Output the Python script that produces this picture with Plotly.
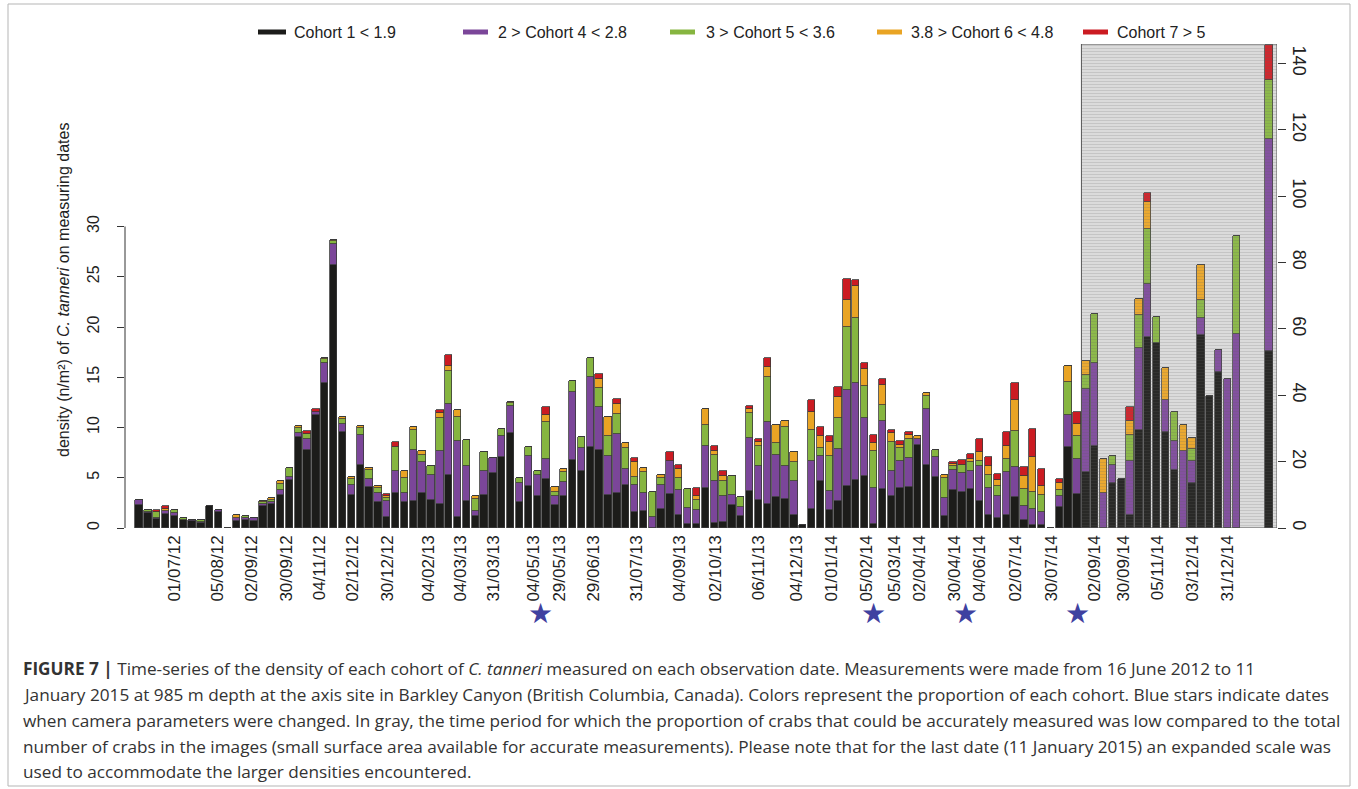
import plotly.graph_objects as go

# ---------------- data (bar index 1..125, left scale) ----------------
black = [2.25,1.45,0.9,1.42,1.16,0.75,0.66,0.5,2.2,1.6,
         0,0.73,0.76,0.66,2.15,2.38,3.31,4.8,9.04,7.78,
         11.26,14.47,26.16,9.6,3.24,6.29,4.05,2.55,1.06,3.48,
         2.55,2.65,3.52,2.82,2.39,5.27,1.06,2.65,1.23,3.28,
         5.47,7.03,9.45,2.55,4.21,3.15,4.88,2.32,3.22,6.8,
         5.7,8.03,7.79,3.28,3.48,4.28,1.63,1.72,0.05,1.89,
         3.38,1.33,0.4,0.4,3.98,0.5,0.56,2.29,1.23,3.65,
         2.79,2.35,3.08,2.85,1.33,0.25,1.89,4.68,1.76,2.65,
         4.15,4.81,5.2,0.4,3.88,3.15,3.98,4.05,8.29,6.3,
         5.04,1.23,3.75,3.55,3.88,2.65,1.33,0.96,1.33,3.05,
         0.83,0.33,0.33,0,2.06,8.06,3.42,5.54,8.19,0,
         4.48,4.88,1.33,9.78,18.97,18.41,9.52,5.74,0,4.48,
         19.17,13.1,15.49,0,0]
purple = [0.55,0.1,0.05,0.23,0.33,0.05,0.17,0.1,0,0.2,
          0,0.27,0.23,0.3,0.27,0.2,0.5,0.26,0.46,1.06,
          0.26,1.92,2.05,0.76,1.06,2.95,0.85,0.93,1.6,2.16,
          0.9,5.14,3.02,2.45,5.24,7.06,7.56,3.48,0.46,2.42,
          1.49,2.09,2.72,1.92,2.92,2.16,1.99,0.83,1.33,6.7,
          2.26,6.97,4.28,3.85,5.87,1.59,2.65,1.72,1.03,2.42,
          3.25,2.45,1.56,1.39,4.21,4.21,2.59,1.03,0.9,5.27,
          3.35,8.16,4.18,3.35,3.38,0,4.81,2.45,1.96,5.21,
          9.62,9.62,5.74,3.58,6.73,2.55,2.65,2.92,0.56,5.54,
          2.02,1.76,1.99,1.92,1.76,3.48,2.65,2.19,4.25,3.02,
          1.33,1.56,1.26,0,1.09,3.22,3.45,8.29,8.23,3.48,
          1.76,0,5.31,8.13,5.31,0,3.18,2.89,7.63,2.16,
          1.72,0,2.19,14.86,19.3]
green = [0,0.25,0.65,0,0.33,0.2,0,0.23,0,0,
         0,0,0.17,0,0.13,0.23,0.6,0.9,0.46,0.5,
         0,0.43,0.36,0.46,0.56,0.7,0.86,0.5,0.33,2.45,
         1.5,1.92,0.73,0.9,3.32,3.32,2.39,2.65,1.2,1.89,
         0,0.73,0.23,0.46,0.96,0.33,3.65,0.4,1.0,1.1,
         1.06,1.92,1.82,2.0,1.99,2.06,0.76,2.09,2.55,0.63,
         0,1.16,1.92,1.03,2.09,2.59,1.49,1.89,0.93,2.52,
         1.99,4.48,1.16,3.81,1.82,0,3.05,0.83,3.48,3.08,
         6.2,6.47,3.15,3.65,1.66,2.85,1.33,1.89,0,1.33,
         0.66,1.99,0.4,0.83,0.9,0.5,1.33,1.0,1.29,3.62,
         1.72,1.66,1.66,0,0.66,3.22,2.32,1.43,4.88,0,
         0.9,0,2.65,3.32,5.47,2.59,0,2.92,0,1.23,
         1.76,0,0,0,9.72]
orange = [0,0,0,0.23,0,0,0,0,0,0,
          0,0.33,0,0,0.1,0.17,0.23,0,0.2,0,
          0,0.07,0.13,0.26,0.2,0.2,0.2,0.2,0.17,0,
          0.7,0.36,0.36,0,0.5,0.5,0.73,0,0.26,0,
          0,0,0.1,0,0,0,0.73,0.5,0.33,0,
          0,0,0.93,1.96,1.0,0.53,1.49,0.4,0,0.33,
          0,0.93,0,0.4,1.56,0.4,0.56,0,0,0.4,
          0.4,1.0,1.86,0.66,1.0,0,1.76,1.23,1.39,2.06,
          2.75,3.22,1.76,0.83,1.92,0.9,0.33,0.36,0.27,0.27,
          0,0.27,0.23,0,0.36,0.9,0.9,0.66,1.33,3.08,
          1.33,3.52,0.96,0,0.66,1.66,1.16,1.33,0,3.38,
          0,0,1.33,1.59,2.69,0,3.22,0,2.59,1.09,
          3.48,0,0,0,0]
red = [0,0,0.2,0.27,0,0,0,0,0,0,
       0,0,0,0,0,0,0,0,0,0.33,
       0.3,0,0,0,0,0,0,0,0.2,0.5,
       0,0,0,0,0.3,1.06,0,0,0.05,0,
       0,0,0,0,0,0,0.83,0,0,0,
       0,0,0.5,0,0.5,0,0.43,0,0,0,
       0.9,0.43,0,0.73,0,0.5,0.5,0,0,0.27,
       0.33,0.9,0,0,0,0,1.23,0.9,0.6,1.06,
       2.06,0.6,0.56,0.76,0.66,0.27,0.33,0.33,0,0,
       0,0,0.2,0.43,0.5,1.36,0.83,0.6,1.33,1.66,
       0.86,2.79,1.66,0,0.4,0,1.19,0,0,0,
       0,0,1.43,0,0.9,0,0,0,0,0,
       0,0,0,0,0]

# last date (11 January 2015), expanded right-hand scale
last_bar_pos = 128.7
last_values = [53.2, 64.0, 17.8, 0, 10.5]

bar_pos = list(range(1, len(black) + 1))

series_names = ["Cohort 1 &lt; 1.9", "2 &gt; Cohort 4 &lt; 2.8", "3 &gt; Cohort 5 &lt; 3.6",
                "3.8 &gt; Cohort 6 &lt; 4.8", "Cohort 7 &gt; 5"]
series_colors = ["#1c1c1a", "#7b4699", "#86b540", "#e9a424", "#cb1b22"]
series_values = [black, purple, green, orange, red]

tick_labels = ["01/07/12", "05/08/12", "02/09/12", "30/09/12", "04/11/12", "02/12/12",
               "30/12/12", "04/02/13", "04/03/13", "31/03/13", "04/05/13", "29/05/13",
               "29/06/13", "31/07/13", "04/09/13", "02/10/13", "06/11/13", "04/12/13",
               "01/01/14", "05/02/14", "05/03/14", "02/04/14", "30/04/14", "04/06/14",
               "02/07/14", "30/07/14", "02/09/14", "30/09/14", "05/11/14", "03/12/14",
               "31/12/14"]
tick_pos = [5, 9.85, 13.75, 17.7, 21.45, 25.15, 29.05, 33.75, 37.3, 41.1, 45.55, 48.55,
            52.35, 57.25, 62.1, 66.1, 71, 75.3, 79.25, 83.2, 86.35, 89.25, 93.2, 96,
            100, 104.1, 109, 112.2, 116.15, 120.05, 124.05]

star_pos = [46.4, 84.0, 94.4, 107.1]   # dates when camera parameters changed

gray_start = 107.5   # start of low-measurability period

# ---------------- layout geometry ----------------
W, H = 1358, 789
PL, PR, PT, PB = 125, 1277, 44, 528
X_RANGE = [-0.58, 129.6]
Y_RANGE = [0, (PB - PT) / 10.05]
Y2_RANGE = [0, (PB - PT) / 3.319]


def px_x(px):
    return (px - PL) / (PR - PL)


def px_y(py):
    return (PB - py) / (PB - PT)


FONT = "Liberation Sans, Arial, sans-serif"
fig = go.Figure()

for name, col, vals in zip(series_names, series_colors, series_values):
    fig.add_trace(go.Bar(x=bar_pos, y=vals, name=name, width=0.83,
                         marker=dict(color=col, line=dict(color="#3a3a3a", width=0.8)),
                         showlegend=False))

for name, col, v in zip(series_names, series_colors, last_values):
    fig.add_trace(go.Bar(x=[last_bar_pos], y=[v], name=name, width=0.83, yaxis="y2",
                         marker=dict(color=col, line=dict(color="#3a3a3a", width=0.8)),
                         showlegend=False))

# hatched gray period: stripes drawn over the bars
fig.add_trace(go.Scatter(
    x=[gray_start, X_RANGE[1], X_RANGE[1], gray_start, gray_start],
    y=[0, 0, Y2_RANGE[1], Y2_RANGE[1], 0], yaxis="y2",
    mode="lines", fill="toself", line=dict(color="#555555", width=1),
    fillcolor="rgba(0,0,0,0)",
    fillpattern=dict(shape="-", fgcolor="rgba(95,95,95,0.40)",
                     bgcolor="rgba(255,255,255,0.06)", size=3, solidity=0.3),
    hoverinfo="skip", showlegend=False))

shapes = []
annotations = []

# gray background behind the bars in the low-measurability period
shapes.append(dict(type="rect", xref="x", yref="paper", x0=gray_start, x1=X_RANGE[1],
                   y0=0, y1=1, layer="below", fillcolor="#d9d9d9", line=dict(width=0)))

# left axis line 0..30
shapes.append(dict(type="line", xref="paper", yref="y", x0=0, x1=0, y0=0, y1=30,
                   line=dict(color="#333333", width=1)))

# stars (camera parameter changes)
for sp in star_pos:
    annotations.append(dict(xref="x", yref="paper", x=sp, y=px_y(613), text="★",
                            showarrow=False, xanchor="center", yanchor="middle",
                            font=dict(family="DejaVu Sans", size=28, color="#3f41a0")))

# legend (manual)
leg_lines = [(258, 286, 292), (463, 488, 496), (670, 695, 704), (877, 902, 909), (1083, 1108, 1115)]
for (l0, l1, tx), name, col in zip(leg_lines, series_names, series_colors):
    shapes.append(dict(type="line", xref="paper", yref="paper", x0=px_x(l0), x1=px_x(l1),
                       y0=px_y(32), y1=px_y(32), line=dict(color=col, width=5)))
    annotations.append(dict(xref="paper", yref="paper", x=px_x(tx), y=px_y(32),
                            xanchor="left", yanchor="middle", showarrow=False, text=name,
                            font=dict(family=FONT, size=16, color="#222222")))

# y title
annotations.append(dict(xref="paper", yref="paper", x=px_x(63), y=px_y(290),
                        text="density (n/m²) of <i>C. tanneri</i> on measuring dates",
                        textangle=-90, showarrow=False, xanchor="center", yanchor="middle",
                        font=dict(family=FONT, size=16, color="#222222")))

# caption
caption_lines = [
    "<b>FIGURE 7 |</b> Time-series of the density of each cohort of <i>C. tanneri</i> measured on each observation date. Measurements were made from 16 June 2012 to 11",
    "January 2015 at 985 m depth at the axis site in Barkley Canyon (British Columbia, Canada). Colors represent the proportion of each cohort. Blue stars indicate dates",
    "when camera parameters were changed. In gray, the time period for which the proportion of crabs that could be accurately measured was low compared to the total",
    "number of crabs in the images (small surface area available for accurate measurements). Please note that for the last date (11 January 2015) an expanded scale was",
    "used to accommodate the larger densities encountered.",
]
for i, line in enumerate(caption_lines):
    annotations.append(dict(xref="paper", yref="paper", x=px_x(21), y=px_y(668 + 26 * i),
                            xanchor="left", yanchor="middle", showarrow=False, text=line,
                            font=dict(family="Open Sans, sans-serif", size=17.2, color="#333333")))

# outer frame
shapes.append(dict(type="rect", xref="paper", yref="paper", x0=px_x(8), x1=px_x(1350),
                   y0=px_y(786), y1=px_y(4), line=dict(color="#b5b5b5", width=1)))

fig.update_layout(
    width=W, height=H, autosize=False,
    margin=dict(l=PL, r=W - PR, t=PT, b=H - PB),
    barmode="stack", bargap=0,
    plot_bgcolor="rgba(0,0,0,0)", paper_bgcolor="white",
    shapes=shapes, annotations=annotations,
    xaxis=dict(range=X_RANGE, tickmode="array", tickvals=tick_pos, ticktext=tick_labels,
               tickangle=-90, ticks="", showgrid=False, zeroline=False, showline=False,
               tickfont=dict(family=FONT, size=17, color="#222222"), ticklabelstandoff=3),
    yaxis=dict(range=Y_RANGE, tickmode="array", tickvals=[0, 5, 10, 15, 20, 25, 30],
               ticks="outside", ticklen=7, tickcolor="#333333", tickangle=-90,
               showgrid=False, zeroline=False, showline=False, ticklabelstandoff=12,
               tickfont=dict(family=FONT, size=16, color="#222222")),
    yaxis2=dict(range=Y2_RANGE, overlaying="y", side="right", tickmode="array",
                tickvals=[0, 20, 40, 60, 80, 100, 120, 140], ticks="outside", ticklen=8,
                tickcolor="#333333", tickangle=90, showgrid=False, zeroline=False,
                showline=False, tickfont=dict(family=FONT, size=18, color="#222222")),
)

fig.write_html("out.html")
